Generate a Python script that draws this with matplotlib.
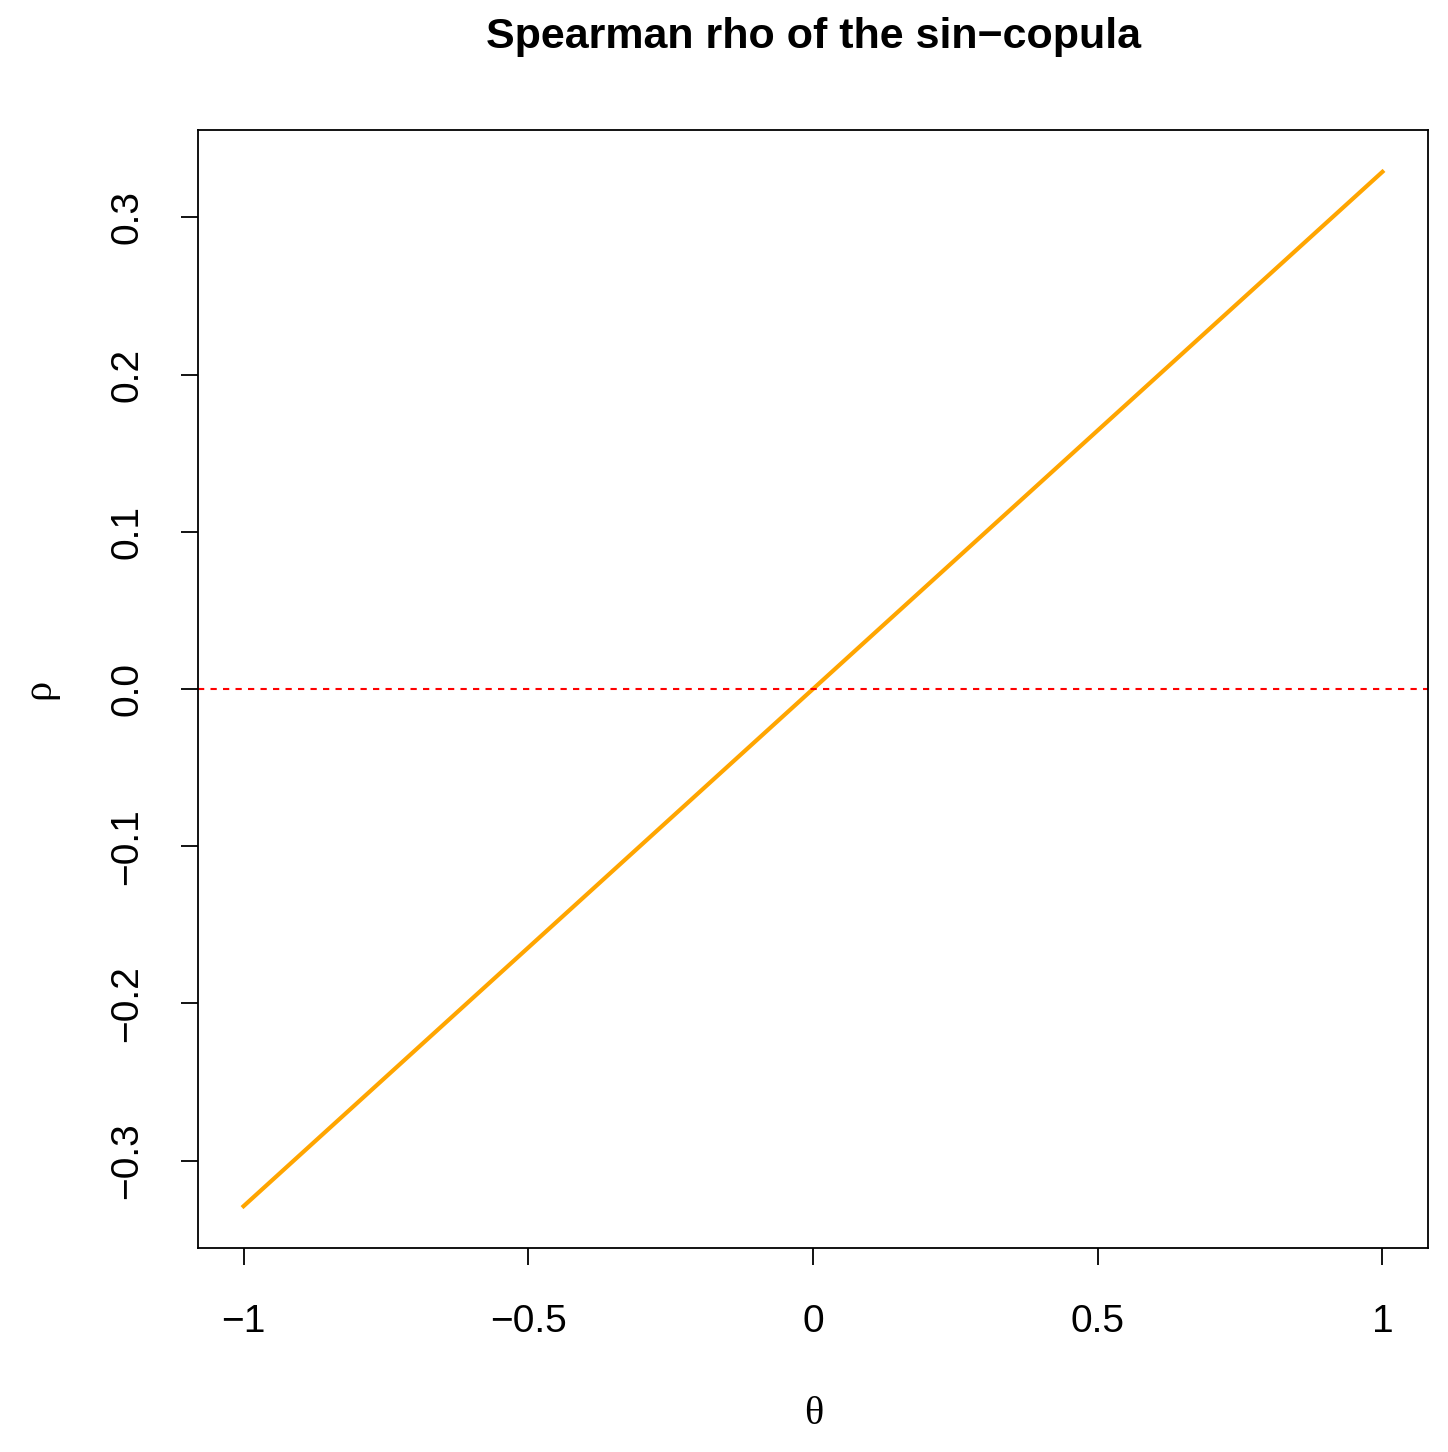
import matplotlib
matplotlib.use("Agg")
import matplotlib.pyplot as plt

# data
theta = [-1.0, -0.5, 0.0, 0.5, 1.0]
rho = [-0.329, -0.1645, 0.0, 0.1645, 0.329]
xticks = [-1, -0.5, 0, 0.5, 1]
xtick_labels = ["\u22121", "\u22120.5", "0", "0.5", "1"]
yticks = [-0.3, -0.2, -0.1, 0.0, 0.1, 0.2, 0.3]
ytick_labels = ["\u22120.3", "\u22120.2", "\u22120.1", "0.0", "0.1", "0.2", "0.3"]

plt.rcParams["font.family"] = ["Liberation Sans", "DejaVu Sans"]

fig = plt.figure(figsize=(14.48, 14.52), dpi=100)
ax = fig.add_axes([198 / 1448, 1 - 1248 / 1452, 1230 / 1448, 1118 / 1452])

ax.plot(theta, rho, color="orange", linewidth=3)
ax.axhline(0, color="red", linestyle=(0, (3, 3)), linewidth=1.5)

ax.set_xlim(-1.08, 1.08)
ax.set_ylim(-0.3556, 0.3556)
ax.set_xticks(xticks)
ax.set_xticklabels(xtick_labels)
ax.set_yticks(yticks)
ax.set_yticklabels(ytick_labels, rotation=90, va="center")
ax.tick_params(axis="x", direction="out", length=12, width=1.3, labelsize=28, pad=28)
ax.tick_params(axis="y", direction="out", length=12, width=1.3, labelsize=28, pad=26)
for s in ax.spines.values():
    s.set_linewidth(1.3)

fig.text(814 / 1448, 1 - 37 / 1452, "Spearman rho of the sin\u2212copula", ha="center", va="center",
         fontsize=31, fontweight="bold")
fig.text(814 / 1448, 1 - 1415 / 1452, "\u03b8", ha="center", va="center", fontsize=29,
         family="Liberation Serif")
fig.text(40 / 1448, 1 - 689 / 1452, "\u03c1", ha="center", va="center", fontsize=29,
         rotation=90, family="Liberation Serif")

fig.savefig("out.png", dpi=100)
